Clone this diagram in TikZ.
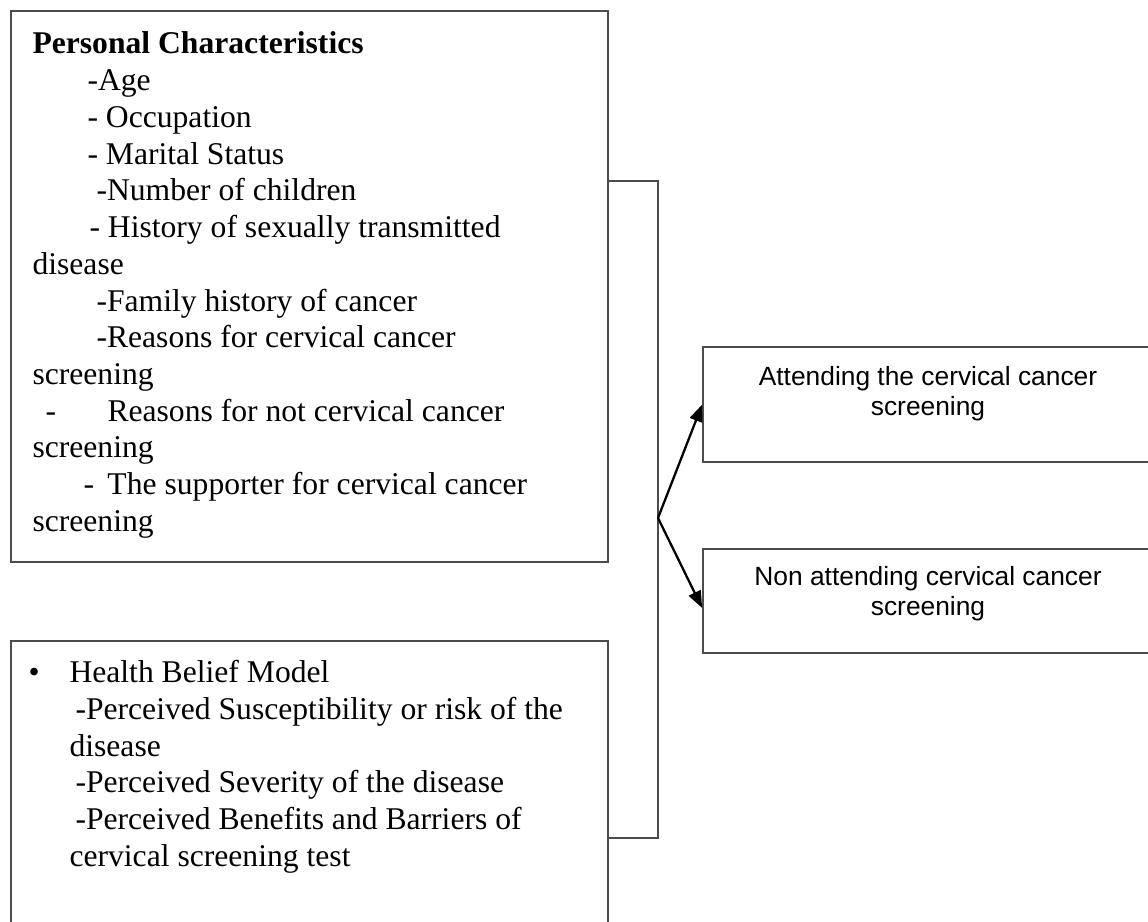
\documentclass[tikz,border=0pt]{standalone}
\usepackage{fontspec}
\setmainfont{Liberation Serif}
\newfontfamily\arialfont{Liberation Sans}
\usepackage{tikz}
\usetikzlibrary{arrows.meta, positioning}

\begin{document}
\begin{tikzpicture}[
            x=0.02cm, y=-0.02cm,
            box/.style={
                rectangle,
                draw=black!70,
                line width=1pt,
                inner sep=0pt
            },
            bodytext/.style={
                inner sep=0pt,
                align=left,
                anchor=north west,
                font=\fontsize{18}{20.9}\selectfont
            },
            outtext/.style={
                inner sep=0pt,
                align=center,
                font=\arialfont\fontsize{15}{17.3}\selectfont
            },
            bracket/.style={
                draw=black!70,
                line width=1pt
            },
            line/.style={
                draw,
                line width=1.3pt,
                -{Triangle[length=0.34cm, width=0.26cm]}
            }
        ]
            \useasboundingbox (0,0) rectangle (1148,921);

            % --- CAJAS ---
            \node [box, minimum width=11.94cm, minimum height=11.02cm] (personal_box) at (309.5,286.5) {};
            \node [box, minimum width=11.94cm, minimum height=6.2cm] (belief_box) at (309.5,796) {};
            \node [box, minimum width=9cm, minimum height=2.3cm] (attend_box) at (928,404.5) {};
            \node [box, minimum width=9cm, minimum height=2.08cm] (nonattend_box) at (928,601) {};

            % --- TEXTOS ---
            \node [bodytext, below right=0.43cm and 0.44cm of personal_box.north west] (personal_txt) {
                \textbf{Personal Characteristics}\\
                \hspace*{1.1cm}-Age\\
                \hspace*{1.1cm}- Occupation\\
                \hspace*{1.1cm}- Marital Status\\
                \hspace*{1.28cm}-Number of children\\
                \hspace*{1.14cm}- History of sexually transmitted\\
                disease\\
                \hspace*{1.28cm}-Family history of cancer\\
                \hspace*{1.28cm}-Reasons for cervical cancer\\
                screening\\
                \hspace*{0.26cm}\makebox[1.24cm][l]{-}Reasons for not cervical cancer\\
                screening\\
                \hspace*{1.02cm}\makebox[0.48cm][l]{-}The supporter for cervical cancer\\
                screening
            };

            \node [bodytext, below right=0.4cm and 1.18cm of belief_box.north west] (belief_txt) {
                \llap{\makebox[0.82cm][l]{\textbullet}}Health Belief Model\\
                \hspace*{0.12cm}-Perceived Susceptibility or risk of the\\
                disease\\
                \hspace*{0.12cm}-Perceived Severity of the disease\\
                \hspace*{0.12cm}-Perceived Benefits and Barriers of\\
                cervical screening test
            };

            \node [outtext, below=0.4cm of attend_box.north] (attend_txt) {
                Attending the cervical cancer\\ screening
            };
            \node [outtext, below=0.36cm of nonattend_box.north] (nonattend_txt) {
                Non attending cervical cancer\\ screening
            };

            % --- ENLACES ---
            \coordinate (fork_top) at (658,181);
            \coordinate (fork_bot) at (658,838);
            \coordinate (fork) at (658,518);

            \path [bracket] (personal_box.east |- fork_top) -- (fork_top) -- (fork_bot) -- (belief_box.east |- fork_bot);
            \path [line] (fork) -- (attend_box.west);
            \path [line] (fork) -- ([yshift=-0.14cm]nonattend_box.west);
        \end{tikzpicture}
\end{document}
